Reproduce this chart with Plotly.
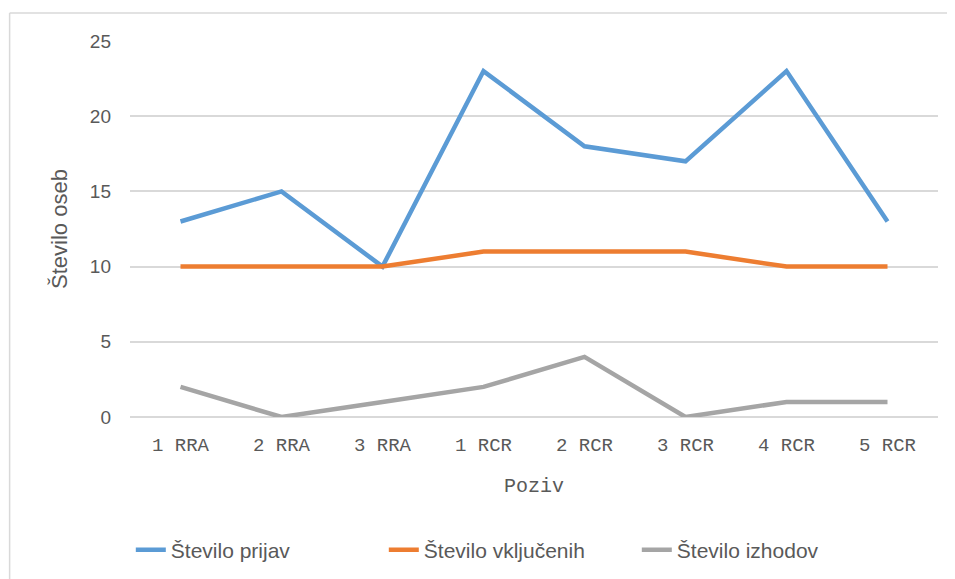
import plotly.graph_objects as go

# Podatki po pozivih
pozivi = ["1 RRA", "2 RRA", "3 RRA", "1 RCR", "2 RCR", "3 RCR", "4 RCR", "5 RCR"]
prijave = [13, 15, 10, 23, 18, 17, 23, 13]
vkljuceni = [10, 10, 10, 11, 11, 11, 10, 10]
izhodi = [2, 0, 1, 2, 4, 0, 1, 1]

fig = go.Figure()

fig.add_trace(
    go.Scatter(
        x=pozivi,
        y=prijave,
        name="Število prijav",
        mode="lines",
        line=dict(color="#5B9BD5", width=4.5),
    )
)
fig.add_trace(
    go.Scatter(
        x=pozivi,
        y=vkljuceni,
        name="Število vključenih",
        mode="lines",
        line=dict(color="#ED7D31", width=4.5),
    )
)
fig.add_trace(
    go.Scatter(
        x=pozivi,
        y=izhodi,
        name="Število izhodov",
        mode="lines",
        line=dict(color="#A5A5A5", width=4.5),
    )
)

# Okvir grafa (kot v Excelu)
fig.add_shape(
    type="line", xref="paper", yref="paper",
    x0=-0.149, x1=1.1, y0=1.0745, y1=1.0745,
    line=dict(color="#D9D9D9", width=1.5),
)
fig.add_shape(
    type="line", xref="paper", yref="paper",
    x0=-0.149, x1=-0.149, y0=1.0745, y1=-0.6,
    line=dict(color="#D9D9D9", width=1.5),
)

fig.update_layout(
    width=955,
    height=579,
    margin=dict(l=122, r=25, t=33, b=170),
    plot_bgcolor="#FFFFFF",
    paper_bgcolor="#FFFFFF",
    showlegend=True,
    legend=dict(
        orientation="h",
        x=0.001,
        xanchor="left",
        y=-0.354,
        yanchor="middle",
        font=dict(family="Liberation Sans", size=21, color="#595959"),
        entrywidth=208,
        entrywidthmode="pixels",
    ),
    xaxis=dict(
        title=dict(
            text="Poziv",
            font=dict(family="Liberation Mono", size=20, color="#595959"),
            standoff=21,
        ),
        tickfont=dict(family="Liberation Mono", size=19, color="#595959"),
        ticklabelstandoff=14,
        showgrid=False,
        showline=False,
        ticks="",
        range=[-0.5, 7.5],
    ),
    yaxis=dict(
        title=dict(
            text="Število oseb",
            font=dict(family="Liberation Sans", size=22, color="#595959"),
            standoff=16,
        ),
        tickfont=dict(family="Liberation Sans", size=19, color="#595959"),
        range=[0, 25],
        dtick=5,
        gridcolor="#D9D9D9",
        gridwidth=1.5,
        zeroline=True,
        zerolinecolor="#D9D9D9",
        zerolinewidth=1.5,
        ticks="",
        ticklabelstandoff=18,
    ),
)

fig.write_html("out.html")
